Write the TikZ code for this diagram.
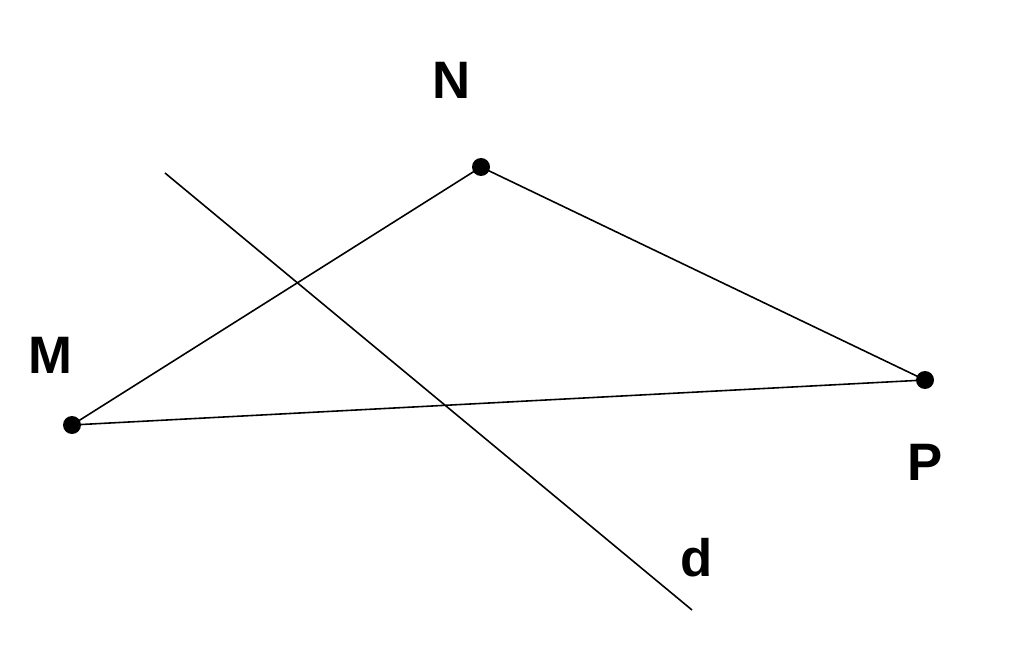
\documentclass[tikz,border=0pt]{standalone}
\usepackage{fontspec}
\setmainfont{Liberation Sans}
\begin{document}
\begin{tikzpicture}[x=0.02cm,y=-0.02cm,
  pt/.style={circle,fill=black,inner sep=0pt,minimum size=0.36cm},
  lbl/.style={font=\fontsize{30}{30}\selectfont\bfseries},
  seg/.style={line width=0.9pt}]
\useasboundingbox (0,0) rectangle (1024,658);
\node[pt] (N) at (481,167) {};
\node[pt] (M) at (72,425) {};
\node[pt] (P) at (925,380) {};
\coordinate (d1) at (165,173);
\coordinate (d2) at (692,610);
\draw[seg] (M.center) -- (N.center) -- (P.center) -- (M.center);
\draw[seg] (d1) -- (d2);
\node[lbl] (lN) at (452,80) {N};
\node[lbl] (lM) at (50,355) {M};
\node[lbl] (lP) at (925,462) {P};
\node[lbl] (ld) at (697,558) {d};
\end{tikzpicture}
\end{document}
